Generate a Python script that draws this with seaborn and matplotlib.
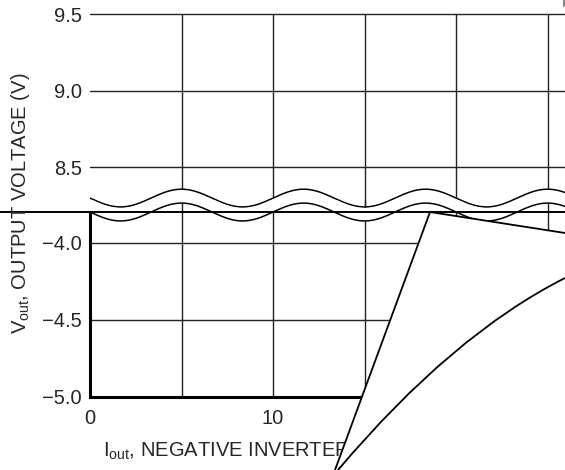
import matplotlib
matplotlib.use("Agg")
import matplotlib.pyplot as plt
import seaborn as sns
import numpy as np
from matplotlib.path import Path
from matplotlib.patches import PathPatch
from matplotlib.lines import Line2D

# grid / tick data
x_grid = [5, 10, 15, 20, 25]
x_ticks = [0, 10]
x_ticklabels = ["0", "10"]
upper_ticks = [8.5, 9.0, 9.5]
upper_labels = ["8.5", "9.0", "9.5"]
lower_ticks = [-5.0, -4.5, -4.0]
lower_labels = ["\u22125.0", "\u22124.5", "\u22124.0"]
lower_grid = [-4.5, -4.0]

x_max = 25.95
upper_lim = (8.219, 9.5)
lower_lim = (-5.0, -3.721)
break_rule = -3.799          # top edge of the lower panel

# axis-break waves (period 20/3, crest at x=5)
wave_period = 20 / 3
wave_crest = 5.0
upper_wave_mid, upper_wave_amp = 8.297, 0.058
lower_wave_mid, lower_wave_amp = -3.799, 0.058

W, H = 565, 470
FS = 14.5

sns.set_style("white")
plt.rcParams["font.family"] = ["Liberation Sans", "DejaVu Sans"]
plt.rcParams["mathtext.default"] = "regular"

fig = plt.figure(figsize=(W / 100, H / 100), dpi=100)


def px(x, y):
    return x / W, 1 - y / H


ax_top = fig.add_axes([90 / W, 1 - 210 / H, (W - 90) / W, 196 / H])
ax_bot = fig.add_axes([90 / W, 1 - 397 / H, (W - 90) / W, 197 / H])
ax_bot.patch.set_alpha(0)
ax_top.patch.set_alpha(0)

grid_kw = dict(color="#222222", lw=1.0, zorder=1)

# upper panel
ax_top.set_xlim(0, x_max)
ax_top.set_ylim(*upper_lim)
for x in x_grid:
    ax_top.axvline(x, **grid_kw)
for y in upper_ticks:
    ax_top.axhline(y, clip_on=False, **grid_kw)
ax_top.set_xticks([])
ax_top.set_yticks(upper_ticks, upper_labels)
ax_top.tick_params(axis="y", length=0, pad=6, labelsize=FS)
for s in ax_top.spines.values():
    s.set_visible(False)

xs = np.linspace(0, x_max, 400)
phase = np.cos(2 * np.pi * (xs - wave_crest) / wave_period)
up_wave = upper_wave_mid + upper_wave_amp * phase
ax_top.fill_between(xs, upper_lim[0] - 1, up_wave, color="white", zorder=2, lw=0)
sns.lineplot(x=xs, y=up_wave, ax=ax_top, color="black", lw=1.1, zorder=3)

# lower panel
ax_bot.set_xlim(0, x_max)
ax_bot.set_ylim(*lower_lim)
for x in x_grid:
    ax_bot.axvline(x, **grid_kw)
for y in lower_grid:
    ax_bot.axhline(y, **grid_kw)
lo_wave = lower_wave_mid + lower_wave_amp * phase

# white gap between the two break lines: map the upper wave into lower-panel units
to_disp = ax_top.transData.transform(np.column_stack([xs, up_wave]))
up_in_bot = ax_bot.transData.inverted().transform(to_disp)[:, 1]
ax_bot.fill_between(xs, lo_wave, up_in_bot - 0.004, color="white", zorder=2, lw=0)
sns.lineplot(x=xs, y=lo_wave, ax=ax_bot, color="black", lw=1.1, zorder=3)
ax_bot.axhline(break_rule, xmin=-90 / (W - 90), xmax=1, clip_on=False,
               color="black", lw=1.4, zorder=4)

ax_bot.set_yticks(lower_ticks, lower_labels)
ax_bot.set_xticks(x_ticks, x_ticklabels)
ax_bot.tick_params(axis="y", length=0, pad=6, labelsize=FS)
ax_bot.tick_params(axis="x", length=0, pad=9, labelsize=FS)
ax_bot.spines["top"].set_visible(False)
ax_bot.spines["right"].set_visible(False)
ax_bot.spines["left"].set_bounds(lower_lim[0], break_rule)
for s in ("left", "bottom"):
    ax_bot.spines[s].set_linewidth(2.2)
    ax_bot.spines[s].set_color("black")
    ax_bot.spines[s].set_zorder(5)

# axis titles
fig.text(*px(21, 203), r"V$_{out}$, OUTPUT VOLTAGE (V)", rotation=90,
         ha="center", va="center", fontsize=FS, zorder=3)
fig.text(*px(103, 451), r"I$_{out}$, NEGATIVE INVERTER OUTPUT CURRENT (mA)",
         ha="left", va="center", fontsize=FS, zorder=3)

# page curl covering the lower right corner
fold = px(430, 212)
flap = Path([fold, px(565, 233), px(565, 470), px(335, 470), fold],
            [Path.MOVETO, Path.LINETO, Path.LINETO, Path.LINETO, Path.CLOSEPOLY])
fig.add_artist(PathPatch(flap, transform=fig.transFigure, facecolor="white",
                         edgecolor="none", zorder=10))
fig.add_artist(Line2D(*zip(px(335, 470), fold, px(565, 233)),
                      transform=fig.transFigure, color="black", lw=1.3, zorder=11))
curl = Path([px(565, 278), px(452, 335), px(338, 470)],
            [Path.MOVETO, Path.CURVE3, Path.CURVE3])
fig.add_artist(PathPatch(curl, transform=fig.transFigure, facecolor="none",
                         edgecolor="black", lw=1.3, zorder=11))
fig.add_artist(Line2D(*zip(px(563.5, 0), px(563.5, 6)), transform=fig.transFigure,
                      color="#888888", lw=1.5, zorder=11))

fig.savefig("out.png", dpi=100)
